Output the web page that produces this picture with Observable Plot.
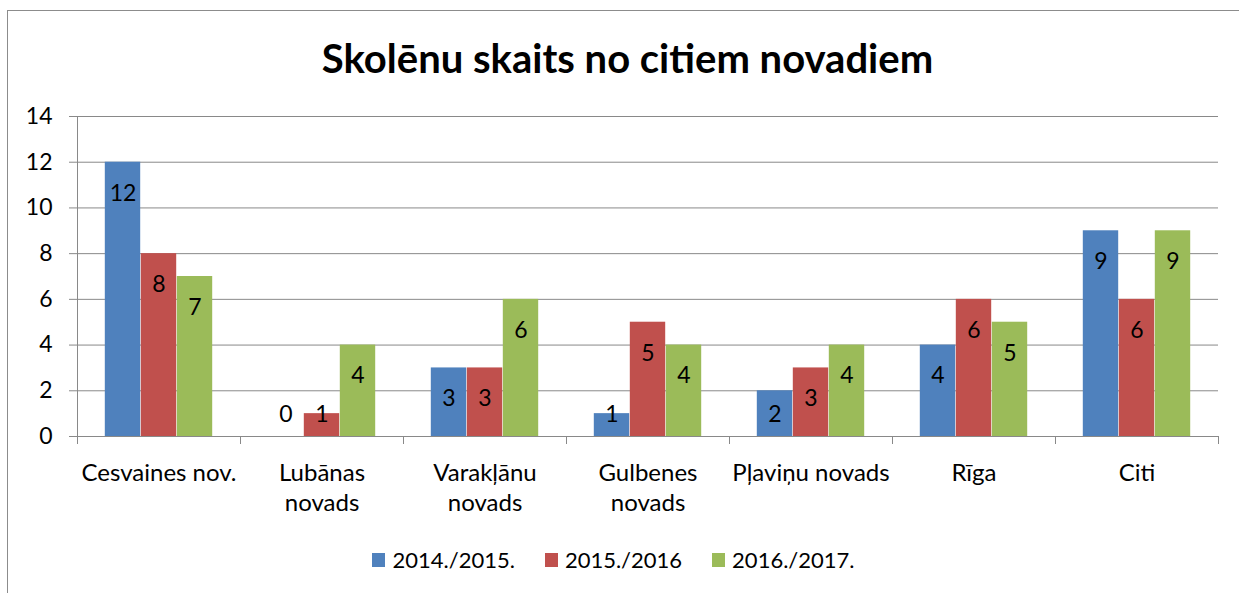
<!DOCTYPE html>
<html>
<head>
<meta charset="utf-8">
<script src="https://cdn.jsdelivr.net/npm/d3@7"></script>
<script src="https://cdn.jsdelivr.net/npm/@observablehq/plot@0.6"></script>
<style>
  html, body { margin: 0; padding: 0; background: #fff; }
  body { width: 1239px; height: 593px; overflow: hidden; position: relative; font-family: Lato, "Open Sans", sans-serif; color: #000; }
  #frame { position: absolute; left: 7px; top: 10px; width: 1300px; height: 700px; border: 1px solid #8c8c8c; box-sizing: border-box; }
  #title { position: absolute; left: 8px; top: 34px; width: 1239px; text-align: center; font-weight: bold; font-size: 40px; line-height: 48px; }
  #chart { position: absolute; left: 0; top: 100px; }
  #legend { position: absolute; left: -6px; top: 547px; width: 1239px; display: flex; justify-content: center; gap: 30px; font-size: 22px; line-height: 26px; }
  #legend .item { display: flex; align-items: center; }
  #legend .sw { width: 13px; height: 14px; margin-right: 7px; }
</style>
</head>
<body>
<div id="frame"></div>
<div id="title">Skolēnu skaits no citiem novadiem</div>
<div id="chart"></div>
<div id="legend"></div>
<script>
const categories = ["Cesvaines nov.", "Lubānas\nnovads", "Varakļānu\nnovads", "Gulbenes\nnovads", "Pļaviņu novads", "Rīga", "Citi"];
const seriesNames = ["2014./2015.", "2015./2016", "2016./2017."];
const values2014 = [12, 0, 3, 1, 2, 4, 9];
const values2015 = [8, 1, 3, 5, 3, 6, 6];
const values2016 = [7, 4, 6, 4, 4, 5, 9];
const colors = ["#4F81BD", "#C0504D", "#9BBB59"];
const yTicks = [0, 2, 4, 6, 8, 10, 12, 14];

const seriesValues = [values2014, values2015, values2016];
const rows = [];
seriesNames.forEach((s, i) => categories.forEach((c, j) => rows.push({series: s, cat: c, value: seriesValues[i][j]})));

const W = 1239, H = 440, mL = 77, mR = 21, mT = 16, mB = 104;
const bw = (W - mL - mR) / categories.length;
const barW = 36;
const inset = (bw - barW) / 2;
const gridColor = "#898989";

const marks = [
  Plot.ruleY(yTicks, {y: d => d, stroke: gridColor, strokeWidth: 1, insetLeft: -8}),
  Plot.ruleX([categories[0]], {x: d => d, dx: -bw / 2, y1: 0, y2: 14, stroke: gridColor}),
  Plot.ruleX(categories, {x: d => d, dx: -bw / 2, y1: 0, y2: -0.35, stroke: gridColor}),
  Plot.ruleX([categories[categories.length - 1]], {x: d => d, dx: bw / 2, y1: 0, y2: -0.35, stroke: gridColor}),
  ...seriesNames.map((s, i) => Plot.barY(rows.filter(r => r.series === s), {
    x: "cat", y: "value", fill: colors[i], dx: (i - 1) * barW, insetLeft: inset + 0.3, insetRight: inset + 0.3
  })),
  ...seriesNames.map((s, i) => Plot.text(rows.filter(r => r.series === s), {
    x: "cat", y: d => Math.max(d.value, 2.32), text: d => String(d.value),
    dx: (i - 1) * barW, dy: 31, fontSize: 23, fill: "#000"
  })),
  Plot.axisY(yTicks, {tickSize: 0, tickPadding: 25, fontSize: 23, label: null}),
  Plot.axisX({tickSize: 0, tickPadding: 23, fontSize: 24, lineHeight: 1.25, label: null})
];

const chart = Plot.plot({
  width: W, height: H,
  marginLeft: mL, marginRight: mR, marginTop: mT, marginBottom: mB,
  x: {type: "band", domain: categories, padding: 0, axis: null},
  y: {domain: [0, 14], axis: null},
  style: {fontFamily: "Lato, 'Open Sans', sans-serif", fontSize: "22px", color: "#000", background: "transparent", overflow: "visible"},
  marks
});
document.getElementById("chart").appendChild(chart);

const legend = document.getElementById("legend");
seriesNames.forEach((s, i) => {
  const item = document.createElement("div");
  item.className = "item";
  const sw = document.createElement("span");
  sw.className = "sw";
  sw.style.background = colors[i];
  const t = document.createElement("span");
  t.textContent = s;
  item.appendChild(sw); item.appendChild(t);
  legend.appendChild(item);
});
</script>
</body>
</html>
